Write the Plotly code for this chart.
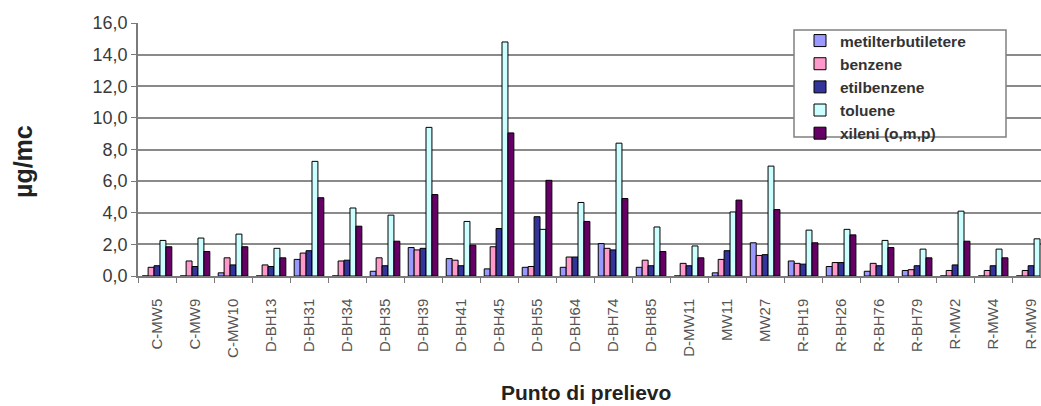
import plotly.graph_objects as go

punti = ["C-MW5", "C-MW9", "C-MW10", "D-BH13", "D-BH31", "D-BH34", "D-BH35", "D-BH39",
         "D-BH41", "D-BH45", "D-BH55", "D-BH64", "D-BH74", "D-BH85", "D-MW11", "MW11",
         "MW27", "R-BH19", "R-BH26", "R-BH76", "R-BH79", "R-MW2", "R-MW4", "R-MW9"]

metilterbutiletere = [0, 0, 0.2, 0, 1.05, 0, 0.3, 1.8, 1.1, 0.45, 0.55, 0.55, 2.05, 0.55,
                      0, 0.2, 2.1, 0.95, 0.6, 0.3, 0.35, 0, 0, 0]
benzene = [0.55, 0.95, 1.15, 0.7, 1.45, 0.95, 1.15, 1.65, 1.0, 1.85, 0.6, 1.2, 1.75, 1.0,
           0.8, 1.05, 1.3, 0.8, 0.85, 0.8, 0.4, 0.35, 0.35, 0.35]
etilbenzene = [0.65, 0.6, 0.7, 0.6, 1.6, 1.0, 0.65, 1.75, 0.65, 3.0, 3.75, 1.2, 1.65, 0.65,
               0.65, 1.6, 1.35, 0.75, 0.85, 0.65, 0.65, 0.7, 0.65, 0.65]
toluene = [2.25, 2.4, 2.65, 1.75, 7.25, 4.3, 3.85, 9.4, 3.45, 14.8, 2.95, 4.65, 8.4, 3.1,
           1.9, 4.05, 6.95, 2.9, 2.95, 2.25, 1.7, 4.1, 1.7, 2.35]
xileni = [1.85, 1.55, 1.85, 1.15, 4.95, 3.15, 2.2, 5.15, 1.95, 9.05, 6.05, 3.45, 4.9, 1.55,
          1.15, 4.8, 4.2, 2.1, 2.6, 1.8, 1.15, 2.2, 1.15, None]

serie = [
    ("metilterbutiletere", metilterbutiletere, "#9999FF"),
    ("benzene", benzene, "#FF99CC"),
    ("etilbenzene", etilbenzene, "#333399"),
    ("toluene", toluene, "#CCFFFF"),
    ("xileni (o,m,p)", xileni, "#660066"),
]

FONT = "Liberation Sans, Arial, sans-serif"

fig = go.Figure()
for nome, valori, colore in serie:
    fig.add_trace(go.Bar(x=punti, y=valori, name=nome,
                         marker=dict(color=colore, line=dict(color="black", width=1))))

# plot area (px): x 138..1041, y 23..276
W, H = 903, 253
def px(x):
    return (x - 138) / W
def py(y):
    return (276 - y) / H

fig.update_layout(
    width=1041, height=406,
    margin=dict(l=138, r=0, t=23, b=130, autoexpand=False),
    paper_bgcolor="white", plot_bgcolor="white",
    barmode="group", bargap=0.22, bargroupgap=0,
    separators=",.",
    font=dict(family=FONT, color="#333333"),
    showlegend=True,
    legend=dict(x=px(800), y=py(24), xanchor="left", yanchor="top",
                bgcolor="rgba(0,0,0,0)", borderwidth=0,
                font=dict(size=15.5, color="#333333", weight="bold"),
                itemwidth=30, tracegroupgap=0),
)

# legend box (wider than plotly's own)
fig.add_shape(type="rect", xref="paper", yref="paper", layer="above",
              x0=px(794), x1=px(1006), y0=py(137), y1=py(30),
              fillcolor="white", line=dict(color="#808080", width=1.5))

fig.update_yaxes(range=[0, 16], dtick=2, tickformat=".1f", automargin=False,
                 showgrid=True, gridcolor="#8a8a8a", gridwidth=1.5,
                 showline=True, linecolor="#7a7a7a", linewidth=1.5,
                 ticks="outside", ticklen=5, tickcolor="#7a7a7a",
                 tickfont=dict(size=18, color="#3a3a3a"), zeroline=False)

# last group is cut by the right edge, as in the original
fig.update_xaxes(range=[-0.5, 23.26], tickangle=-90, tickson="boundaries", automargin=False,
                 ticks="outside", ticklen=5, tickcolor="#7a7a7a",
                 showline=True, linecolor="#7a7a7a", linewidth=1.5,
                 ticklabelstandoff=15,
                 tickfont=dict(size=15, color="#555555"))

fig.add_annotation(text="<b>Punto di prelievo</b>", xref="paper", yref="paper",
                   x=px(586), y=py(392), showarrow=False, xanchor="center", yanchor="middle",
                   font=dict(size=21, color="#222222"))
fig.add_annotation(text="<b>µg/mc</b>", xref="paper", yref="paper",
                   x=px(23), y=py(162), showarrow=False, xanchor="center", yanchor="middle",
                   textangle=-90, font=dict(size=25, color="#222222"))

# drop the default body margin so the figure fills the window exactly
fig.write_html("out.html", config={"displayModeBar": False},
               post_script="document.body.style.margin='0';document.body.style.overflow='hidden';")
